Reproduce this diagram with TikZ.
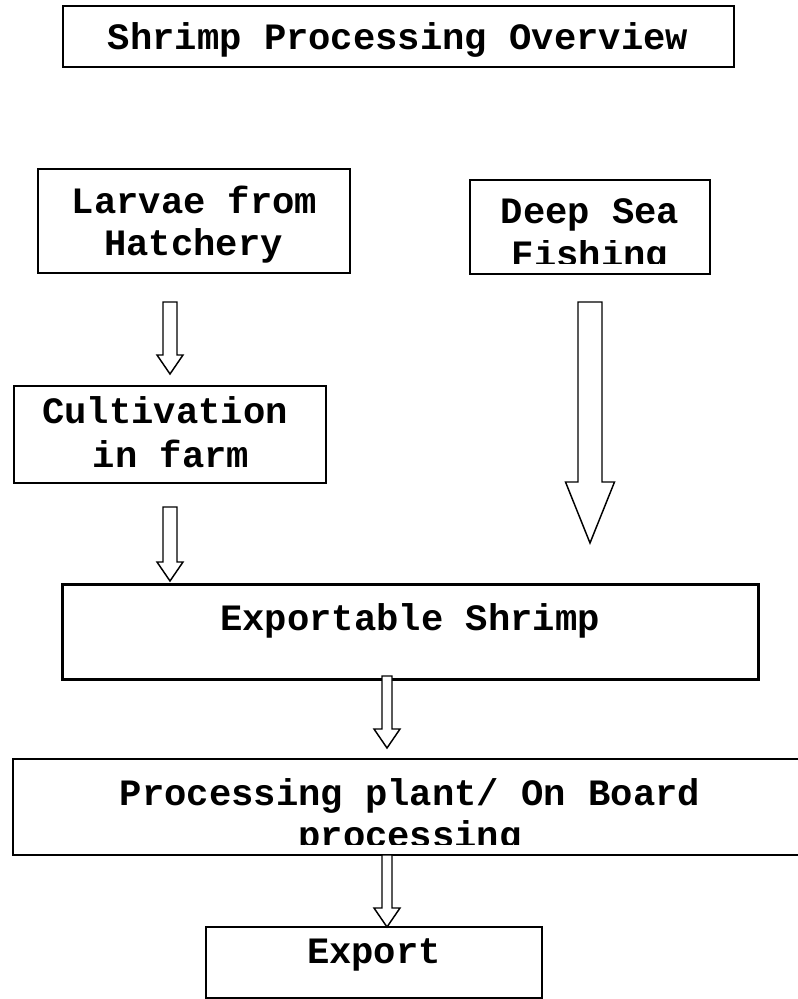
\documentclass[tikz,border=0pt]{standalone}
\usepackage{fontspec}
\setmonofont{Liberation Mono}
\begin{document}
\begin{tikzpicture}[x=0.75pt,y=-0.75pt,
  box/.style={draw=black, line width=1.5pt, rectangle, inner sep=0pt},
  txt/.style={font=\ttfamily\bfseries\fontsize{27.9}{31.5}\selectfont, inner sep=0pt, anchor=base},
  barrow/.style={draw=black, fill=white, line width=1.1pt, line join=miter}]
\useasboundingbox (0,0) rectangle (798,999);
\clip (0,0) rectangle (798,999);
% boxes
\node[box, minimum width=503.25pt, minimum height=45.75pt] (title) at (398.5,36.5) {};
\node[box, minimum width=234pt, minimum height=78pt] (larvae) at (194,221) {};
\node[box, minimum width=180pt, minimum height=70.5pt] (deep) at (590,227) {};
\node[box, minimum width=234pt, minimum height=72.75pt] (cult) at (170,434.5) {};
\node[box, line width=2.25pt, minimum width=522pt, minimum height=71.25pt] (expsh) at (410,631.5) {};
\node[box, minimum width=595.5pt, minimum height=72pt] (proc) at (410,807) {};
\node[box, line width=1.2pt, minimum width=252pt, minimum height=53.25pt] (export) at (374,962.5) {};
% texts
\node[txt] (ttitle) at (398,50) {Shrimp Processing Overview};
\node[txt] (tl1) at (194.5,213) {Larvae from};
\node[txt] (tl2) at (193.5,255) {Hatchery};
\node[txt] (td1) at (590,223) {Deep Sea};
\begin{scope}
  \clip (470,240) rectangle (710,263);
  \node[txt] (td2) at (590,266) {Fishing};
\end{scope}
\node[txt] (tc1) at (165,423) {Cultivation};
\node[txt] (tc2) at (171,467) {in farm};
\node[txt] (te) at (410,630) {Exportable Shrimp};
\node[txt] (tp1) at (410,805) {Processing plant/ On Board};
\begin{scope}
  \clip (13,815) rectangle (798,844);
  \node[txt] (tp2) at (410,847) {processing};
\end{scope}
\node[txt] (tx) at (374,963) {Export};
% block arrows
\newcommand{\blockarrow}[7]{% x, ytop, yhead, ytip, half shaft, half head
  \draw[barrow] (#1-#5,#2) -- (#1+#5,#2) -- (#1+#5,#3) -- (#1+#6,#3) -- (#1,#4) -- (#1-#6,#3) -- (#1-#5,#3) -- cycle;}
\blockarrow{170}{302}{355}{374}{7}{13}{}
\blockarrow{170}{507}{562}{581}{7}{13}{}
\blockarrow{590}{302}{482}{543}{12}{24.5}{}
\blockarrow{387}{676}{729}{748}{5}{13}{}
\blockarrow{387}{855}{908}{927}{5}{13}{}
\end{tikzpicture}
\end{document}
